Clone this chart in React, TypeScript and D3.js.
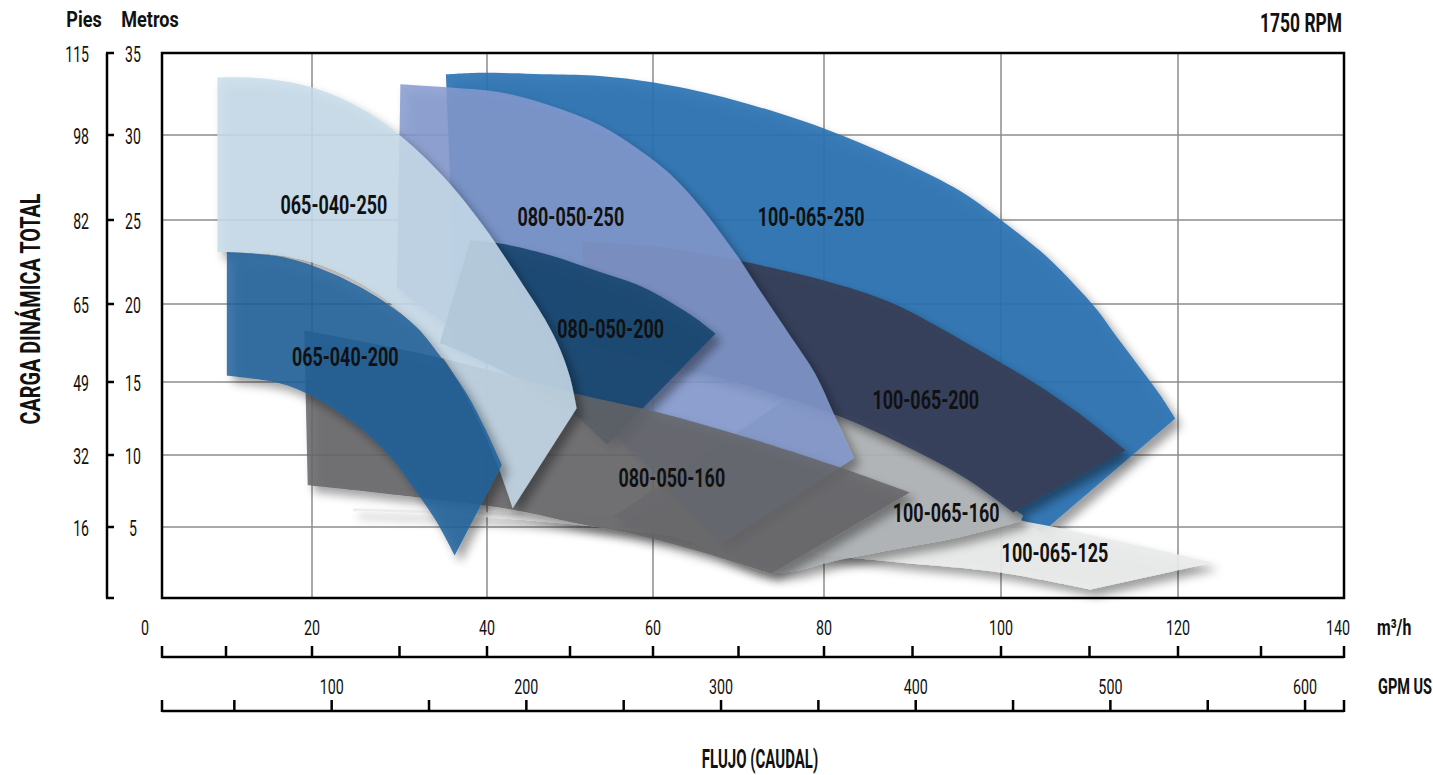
import React from "react";
import * as d3 from "d3";

// ---------- axis values ----------
const FLOW_TICKS = [10, 20, 30, 40, 50, 60, 70, 80, 90, 100, 110, 120, 130, 140];
const FLOW_LABELS = [20, 40, 60, 80, 100, 120, 140];
const FLOW_GRID = [20, 40, 60, 80, 100, 120];
const GPM_TICKS = [50, 100, 150, 200, 250, 300, 350, 400, 450, 500, 550, 600];
const GPM_LABELS = [100, 200, 300, 400, 500, 600];
const HEAD_M = [5, 10, 15, 20, 25, 30, 35];
const HEAD_FT = [16, 32, 49, 65, 82, 98, 115];
const HEAD_GRID = [5, 10, 15, 20, 25, 30];

// ---------- regions: [flow m3/h, head m] ----------
const R_100_065_250_TOP = [[35.3, 33.7], [39.5, 33.8], [47.6, 33.7], [53.6, 33.6], [60.1, 33.2], [68.3, 32.3], [80, 30.4], [88.6, 28.5], [95.4, 26.7], [100, 25.0], [105.0, 22.9], [108.4, 21.1], [110.9, 19.6], [113.2, 17.8], [115.6, 16.0], [118.0, 14.1], [119.7, 12.5]];
const R_100_065_250_BOT = [[36.3, 20.7], [41.6, 19.9], [48.8, 18.7], [56.0, 17.4], [63.5, 15.9], [72.5, 14.5], [81.5, 12.5], [88.6, 10.7], [95.4, 8.4], [99.9, 6.5], [104.6, 4.6]];

const R_100_065_200_TOP = [[51.5, 23.7], [60.8, 23.4], [69.8, 22.6], [80, 21.4], [87.5, 20.1], [95.5, 17.7], [103.6, 15.0], [108.9, 12.8], [114.1, 10.3]];
const R_100_065_200_BOT = [[51.5, 17.4], [57.2, 16.7], [63.5, 15.9], [72.5, 14.5], [81.5, 12.7], [88.6, 10.8], [96.2, 8.3], [101.4, 6.0]];

const R_080_050_250_TOP = [[30.1, 33.1], [35.8, 32.9], [41.6, 32.6], [47.6, 31.8], [53.6, 30.6], [58.4, 29.1], [62.0, 27.7], [65.5, 25.8], [69.8, 22.9], [72.5, 20.8], [76.0, 18.0], [79.0, 15.5], [81.2, 12.7], [83.4, 9.8]];
const R_080_050_250_BOT = [[29.7, 21.0], [34.6, 19.0], [41.6, 16.5], [48.8, 14.1], [55.2, 11.4], [60.8, 8.4], [68.2, 3.9]];

const R_080_050_200_TOP = [[38.1, 23.8], [41.6, 23.6], [47.6, 22.9], [53.6, 21.9], [58.8, 21.0], [64.7, 19.2], [67.3, 18.1]];
const R_080_050_200_BOT = [[34.6, 17.5], [39.2, 16.4], [44.0, 15.1], [48.8, 13.6], [54.5, 10.7]];

const R_065_040_250_TOP = [[9.0, 33.5], [12.8, 33.5], [16.6, 33.3], [20.1, 32.9], [24.3, 32.0], [28.1, 30.8], [32.0, 29.1], [35.8, 27.1], [39.5, 24.7], [41.6, 23.2], [44.0, 21.4], [47.0, 19.0], [48.8, 17.1], [50.0, 15.3], [50.8, 13.2]];
const R_065_040_250_BOT = [[9.0, 23.1], [16.3, 22.9], [22.1, 22.1], [27.8, 20.5], [32.3, 18.3], [35.4, 16.2], [38.4, 13.1], [41.2, 9.4], [43.1, 6.3]];

const R_065_040_200_TOP = [[10.1, 23.1], [16.6, 22.8], [22.4, 21.8], [28.1, 20.2], [32.0, 18.5], [34.6, 16.7], [37.7, 14.2], [39.8, 11.8], [41.8, 9.3]];
const R_065_040_200_BOT = [[10.1, 15.4], [16.3, 14.9], [20.1, 14.0], [25.8, 11.7], [28.9, 9.9], [31.5, 7.8], [34.1, 5.5], [36.3, 3.0]];

const R_080_050_160_TOP = [[19.1, 18.3], [26.6, 17.5], [34.3, 16.6], [42.8, 15.4], [50.0, 14.3], [60.8, 12.9], [71.0, 11.2], [81.5, 9.2], [89.7, 7.4]];
const R_080_050_160_BOT = [[19.5, 7.9], [31.5, 7.1], [43.1, 6.2], [51.2, 5.2], [56.9, 4.6], [64.7, 3.4], [73.9, 1.7]];

const R_100_065_160_TOP = [[76.0, 14.0], [81.5, 13.1], [88.6, 11.2], [96.2, 8.5], [102.5, 5.8]];
const R_100_065_160_BOT = [[55.2, 5.7], [65.5, 3.7], [73.9, 1.8], [81.8, 2.7], [88.6, 3.5], [95.4, 4.3], [102.2, 5.4]];

const R_100_065_125_TOP = [[24.7, 6.3], [41.6, 6.0], [59.6, 5.8], [77.2, 5.8], [90.9, 5.9], [100.2, 5.6], [111.2, 4.3], [124.2, 2.5]];
const R_100_065_125_BOT = [[24.7, 6.1], [30.1, 6.0], [41.6, 5.6], [53.6, 5.0], [65.5, 4.1], [77.2, 3.2], [88.6, 2.5], [99.9, 1.8], [110.1, 0.6]];

// label anchors in data units [flow, head]
const LABELS: [string, number, number][] = [
  ["065-040-250", 22.5, 25.9],
  ["080-050-250", 50.1, 25.2],
  ["100-065-250", 78.5, 25.2],
  ["080-050-200", 54.9, 18.4],
  ["065-040-200", 23.8, 16.6],
  ["100-065-200", 91.5, 13.8],
  ["080-050-160", 62.2, 8.4],
  ["100-065-160", 93.8, 6.0],
  ["100-065-125", 106.1, 3.2],
];

// drawing order back to front
const REGIONS: { name: string; top: number[][]; bottom: number[][] }[] = [
  { name: "100-065-250", top: R_100_065_250_TOP, bottom: R_100_065_250_BOT },
  { name: "100-065-125", top: R_100_065_125_TOP, bottom: R_100_065_125_BOT },
  { name: "100-065-160", top: R_100_065_160_TOP, bottom: R_100_065_160_BOT },
  { name: "100-065-200", top: R_100_065_200_TOP, bottom: R_100_065_200_BOT },
  { name: "080-050-250", top: R_080_050_250_TOP, bottom: R_080_050_250_BOT },
  { name: "080-050-200", top: R_080_050_200_TOP, bottom: R_080_050_200_BOT },
  { name: "080-050-160", top: R_080_050_160_TOP, bottom: R_080_050_160_BOT },
  { name: "065-040-250", top: R_065_040_250_TOP, bottom: R_065_040_250_BOT },
  { name: "065-040-200", top: R_065_040_200_TOP, bottom: R_065_040_200_BOT },
];

const STYLE: Record<string, { fill: string; opacity: number }> = {
  "100-065-250": { fill: "#2a71b1", opacity: 0.9 },
  "100-065-200": { fill: "#353f5a", opacity: 0.95 },
  "100-065-160": { fill: "#afb2b5", opacity: 0.9 },
  "100-065-125": { fill: "#eaeceb", opacity: 0.9 },
  "080-050-250": { fill: "#849acf", opacity: 0.85 },
  "080-050-200": { fill: "#154670", opacity: 0.9 },
  "080-050-160": { fill: "#646568", opacity: 0.85 },
  "065-040-250": { fill: "#c8dceb", opacity: 0.85 },
  "065-040-200": { fill: "#1f629b", opacity: 0.85 },
};

const W = 1433;
const H = 775;
const PL = 162, PR = 1344, PT = 53, PB = 598;
const FONT = "Roboto, 'Open Sans', 'DejaVu Sans', sans-serif";

const x = d3.scaleLinear().domain([0, 20, 40, 60, 80, 100, 120, 140]).range([140, 312, 487, 653, 824, 1001, 1178, 1344]);
const y = d3.scaleLinear().domain([0, 5, 10, 15, 20, 25, 30, 35]).range([598, 527, 455, 382, 304, 220, 135, 53]);
const gpm = d3.scaleLinear().domain([0, 620]).range([137, 1344]);

const lineGen = d3
  .line<number[]>()
  .x((d) => x(d[0]))
  .y((d) => y(d[1]))
  .curve(d3.curveCatmullRom.alpha(0.5));

function regionPath(top: number[][], bottom: number[][]) {
  const t = lineGen(top) || "";
  const b = lineGen([...bottom].reverse()) || "";
  return t + "L" + b.slice(1) + "Z";
}

function CText(props: {
  x: number; y: number; children: React.ReactNode; size?: number; weight?: number;
  anchor?: string; sx?: number; rotate?: number; baseline?: string; textLength?: number;
}) {
  const { x: tx, y: ty, children, size = 20, weight = 400, anchor = "middle", sx = 1, rotate = 0, baseline, textLength } = props;
  return (
    <text
      transform={`translate(${tx},${ty}) rotate(${rotate}) scale(${sx},1)`}
      fontSize={size}
      fontWeight={weight}
      textAnchor={anchor}
      dominantBaseline={baseline}
      fontFamily={FONT}
      fill="#111"
      textLength={textLength}
      lengthAdjust={textLength ? "spacingAndGlyphs" : undefined}
    >
      {children}
    </text>
  );
}

export default function App() {
  return (
    <svg width={W} height={H} style={{ position: "absolute", left: 0, top: 0, display: "block", background: "#fff" }}>
      <defs>
        <filter id="shadow" filterUnits="userSpaceOnUse" x={0} y={0} width={W} height={H}>
          <feDropShadow dx={6} dy={7} stdDeviation={5} floodColor="#000" floodOpacity={0.42} />
        </filter>
      </defs>

      {/* grid */}
      <g stroke="#8c8c8c" strokeWidth={1.5}>
        {FLOW_GRID.map((v) => (
          <line key={"gx" + v} x1={x(v)} x2={x(v)} y1={PT} y2={PB} />
        ))}
        {HEAD_GRID.map((v) => (
          <line key={"gy" + v} x1={PL} x2={PR} y1={y(v)} y2={y(v)} />
        ))}
      </g>

      {/* regions */}
      {REGIONS.map((r) => (
        <path
          key={r.name}
          d={regionPath(r.top, r.bottom)}
          fill={STYLE[r.name].fill}
          fillOpacity={STYLE[r.name].opacity}
          filter="url(#shadow)"
        />
      ))}

      {/* labels */}
      {LABELS.map(([name, q, h]) => (
        <CText key={"l" + name} x={x(q)} y={y(h)} size={26} weight={700} sx={0.69} baseline="central">
          {name}
        </CText>
      ))}

      {/* frame */}
      <rect x={PL} y={PT} width={PR - PL} height={PB - PT} fill="none" stroke="#000" strokeWidth={2.5} />

      {/* left axis */}
      <line x1={107} x2={107} y1={PT} y2={PB} stroke="#000" strokeWidth={2.5} />
      {[0, ...HEAD_M].map((v) => (
        <line key={"ty" + v} x1={106} x2={114} y1={y(v)} y2={y(v)} stroke="#000" strokeWidth={2.5} />
      ))}
      {HEAD_M.map((v, i) => (
        <g key={"ly" + v}>
          <CText x={133} y={y(v) + 2} size={22} sx={0.64} baseline="central">{v}</CText>
          <CText x={89} y={y(v) + 2} size={22} sx={0.64} anchor="end" baseline="central">{HEAD_FT[i]}</CText>
        </g>
      ))}
      <CText x={84} y={27} size={22} weight={700} sx={0.82}>Pies</CText>
      <CText x={150} y={27} size={22} weight={700} sx={0.82}>Metros</CText>
      <CText x={31} y={309} size={27} weight={700} rotate={-90} baseline="central" textLength={231}>
        CARGA DINÁMICA TOTAL
      </CText>
      <CText x={1342} y={32} size={26} weight={700} sx={0.67} anchor="end">1750 RPM</CText>

      {/* flow m3/h axis */}
      <line x1={PL} x2={PR} y1={657} y2={657} stroke="#000" strokeWidth={2.5} />
      {[PL, ...FLOW_TICKS.map((v) => x(v))].map((px, i) => (
        <line key={"tf" + i} x1={px} x2={px} y1={646} y2={658} stroke="#000" strokeWidth={2.5} />
      ))}
      <CText x={145} y={627} size={21} sx={0.68} baseline="central">0</CText>
      {FLOW_LABELS.map((v) => (
        <CText key={"fl" + v} x={x(v) - (v === 140 ? 6 : 0)} y={627} size={21} sx={0.68} baseline="central">{v}</CText>
      ))}
      <CText x={1377} y={635} size={22} weight={700} sx={0.72} anchor="start">m³/h</CText>

      {/* GPM axis */}
      <line x1={PL} x2={PR} y1={711} y2={711} stroke="#000" strokeWidth={2.5} />
      {[PL, ...GPM_TICKS.map((v) => gpm(v)), PR].map((px, i) => (
        <line key={"tg" + i} x1={px} x2={px} y1={700} y2={712} stroke="#000" strokeWidth={2.5} />
      ))}
      {GPM_LABELS.map((v) => (
        <CText key={"gl" + v} x={gpm(v)} y={686} size={21} sx={0.68} baseline="central">{v}</CText>
      ))}
      <CText x={1378} y={694} size={22} weight={700} sx={0.66} anchor="start">GPM US</CText>

      <CText x={760} y={768} size={25} weight={700} sx={0.6}>FLUJO (CAUDAL)</CText>
    </svg>
  );
}
